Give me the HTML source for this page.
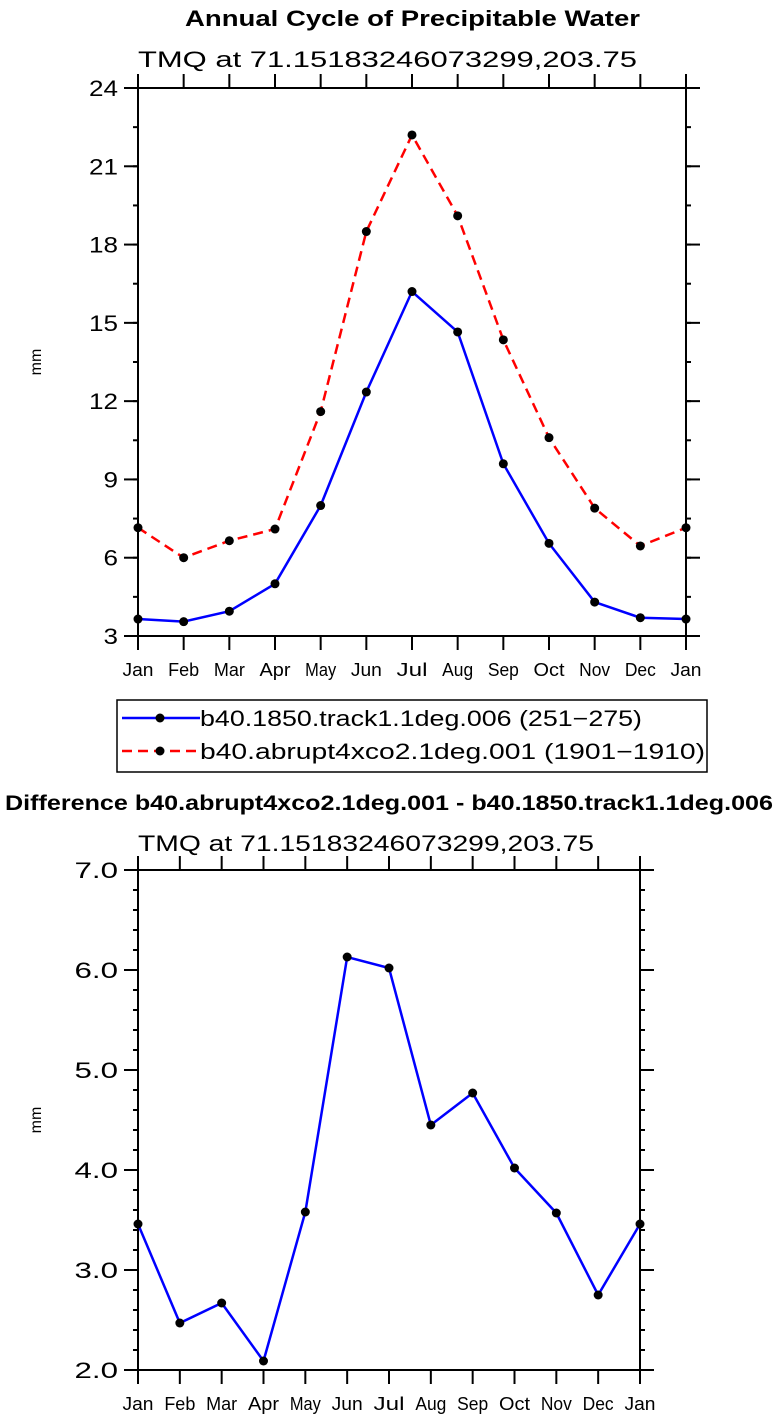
<!DOCTYPE html>
<html><head><meta charset="utf-8"><style>
body{margin:0;background:#fff;}
svg text{font-family:"Liberation Sans",sans-serif;}
</style></head><body>
<svg id="s" width="777" height="1419" xmlns="http://www.w3.org/2000/svg">
<text x="185" y="26" font-size="22" font-weight="bold" textLength="455" lengthAdjust="spacingAndGlyphs">Annual Cycle of Precipitable Water</text>
<text x="138" y="67" font-size="22" textLength="499" lengthAdjust="spacingAndGlyphs">TMQ  at  71.15183246073299,203.75</text>
<text x="5" y="810" font-size="21" font-weight="bold" textLength="768" lengthAdjust="spacingAndGlyphs">Difference b40.abrupt4xco2.1deg.001 - b40.1850.track1.1deg.006</text>
<text x="138" y="851" font-size="22" textLength="456" lengthAdjust="spacingAndGlyphs">TMQ  at  71.15183246073299,203.75</text>
<g>
<rect x="117" y="700" width="590" height="72" fill="#fff" stroke="#000" stroke-width="1.5"/>
<g>
<line x1="122" y1="718" x2="200" y2="718" stroke="#0000ff" stroke-width="2.5"/>
<circle cx="160" cy="718" r="4.5" fill="#000"/>
<text x="200" y="726" font-size="22" textLength="442" lengthAdjust="spacingAndGlyphs">b40.1850.track1.1deg.006 (251−275)</text></g>
<g>
<line x1="122" y1="751" x2="200" y2="751" stroke="#ff0000" stroke-width="2.5" stroke-dasharray="10,6"/>
<circle cx="160" cy="751" r="4.5" fill="#000"/>
<text x="200" y="759" font-size="22" textLength="505" lengthAdjust="spacingAndGlyphs">b40.abrupt4xco2.1deg.001 (1901−1910)</text></g>
</g>
</svg>
<script>
const months=["Jan","Feb","Mar","Apr","May","Jun","Jul","Aug","Sep","Oct","Nov","Dec","Jan"];
const ctrlValues=[3.65,3.55,3.95,5.0,8.0,12.35,16.2,14.65,9.6,6.55,4.3,3.7,3.65];
const co2Values=[7.15,6.0,6.65,7.1,11.6,18.5,22.2,19.1,14.35,10.6,7.9,6.45,7.15];
const diffValues=[3.46,2.47,2.67,2.09,3.58,6.13,6.02,4.45,4.77,4.02,3.57,2.75,3.46];
const topTicks=[3,6,9,12,15,18,21,24];
const botTicks=[2.0,3.0,4.0,5.0,6.0,7.0];
const NS="http://www.w3.org/2000/svg";
const svg=document.getElementById('s');
function mk(tag,attrs,parent){const e=document.createElementNS(NS,tag);for(const k in attrs)e.setAttribute(k,attrs[k]);(parent||svg).appendChild(e);return e;}
function panel(name,L,R,T,B,ymin,ymax,ticks,minorStep,fmt,series){
  const g=mk('g',{});
  
  
  const x=i=>L+(R-L)*i/(months.length-1);
  const y=v=>B-(B-T)*(v-ymin)/(ymax-ymin);
  const r=mk('rect',{x:L,y:T,width:R-L,height:B-T,fill:'none',stroke:'#000','stroke-width':2},g);
  
  
  const st={stroke:'#000','stroke-width':2};
  for(let v=ymin;v<=ymax+1e-9;v+=minorStep){
    const yy=y(v);
    mk('line',Object.assign({x1:L-5,x2:L,y1:yy,y2:yy},st),g);
    mk('line',Object.assign({x1:R,x2:R+5,y1:yy,y2:yy},st),g);
  }
  ticks.forEach(v=>{
    const yy=y(v);
    mk('line',Object.assign({x1:L-14,x2:L,y1:yy,y2:yy},st),g);
    mk('line',Object.assign({x1:R,x2:R+14,y1:yy,y2:yy},st),g);
    const s=fmt(v);
    const t=mk('text',{x:L-20,y:yy+8,'font-size':22,'text-anchor':'end',textLength:s.length*14.5,lengthAdjust:'spacingAndGlyphs'},g);
    t.textContent=s;
    
    
  });
  months.forEach((m,i)=>{
    const xx=x(i);
    mk('line',Object.assign({x1:xx,x2:xx,y1:B,y2:B+14},st),g);
    mk('line',Object.assign({x1:xx,x2:xx,y1:T-14,y2:T},st),g);
    const t=mk('text',{x:xx,y:B+40,'font-size':18,'text-anchor':'middle',textLength:31,lengthAdjust:'spacingAndGlyphs'},g);
    t.textContent=m;
    
    
  });
  const yl=mk('text',{x:0,y:0,'font-size':16,'text-anchor':'middle',transform:`translate(${L-97},${(T+B)/2}) rotate(-90)`},g);
  yl.textContent='mm';
  
  
  series.forEach(s=>{
    const p=mk('polyline',{points:s.vals.map((v,i)=>x(i)+','+y(v)).join(' '),fill:'none',stroke:s.color,'stroke-width':2.5,'stroke-dasharray':s.dash||'none'},g);
    
    
    s.vals.forEach((v,i)=>{
      const c=mk('circle',{cx:x(i),cy:y(v),r:4.5,fill:'#000'},g);
      
      
    });
  });
}
panel('top-chart',138,686,88,636,3,24,topTicks,1.5,v=>String(v),[
  {name:'control',vals:ctrlValues,color:'#0000ff'},
  {name:'abrupt4xco2',vals:co2Values,color:'#ff0000',dash:'10,6'}]);
panel('bottom-chart',138,640,870,1370,2,7,botTicks,0.2,v=>v.toFixed(1),[
  {name:'difference',vals:diffValues,color:'#0000ff'}]);
</script>
</body></html>
